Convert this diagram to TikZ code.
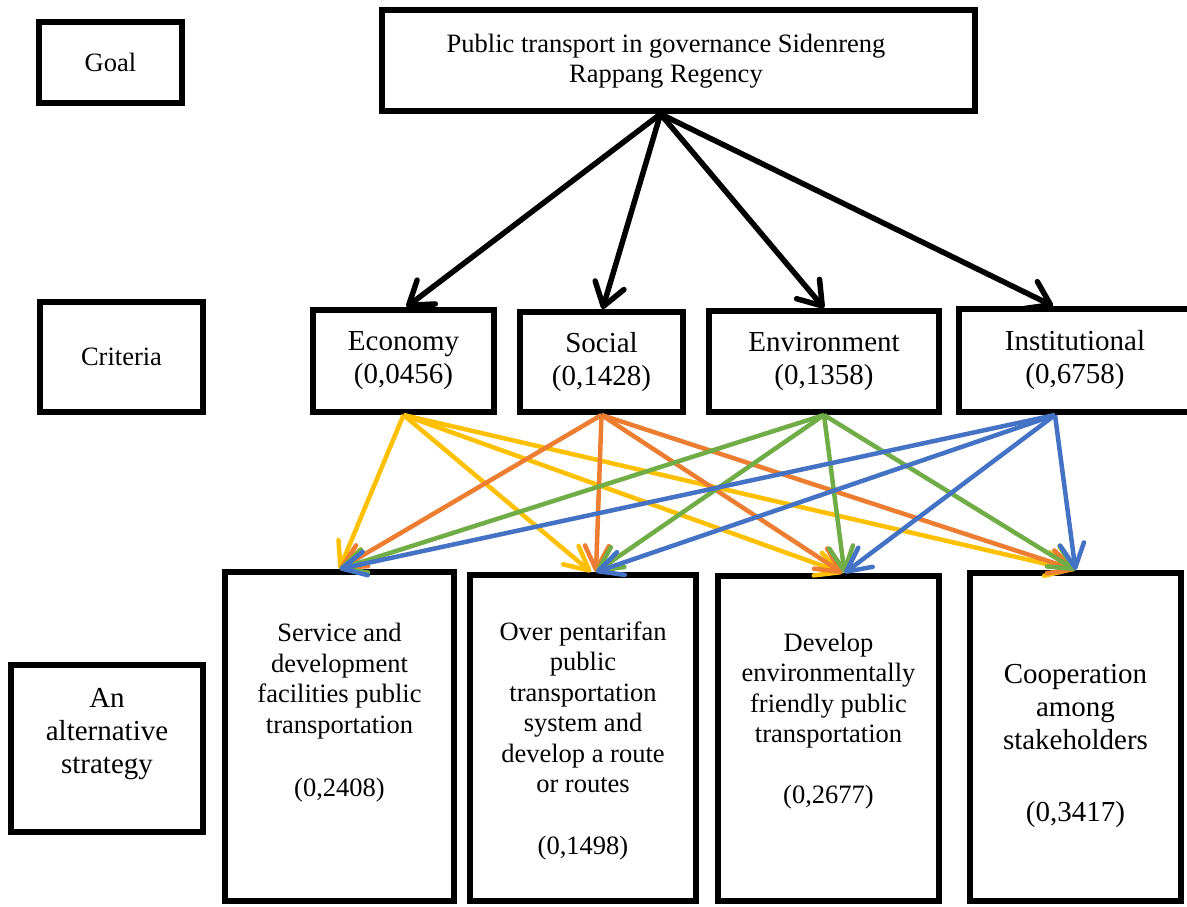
\documentclass[tikz,border=0pt]{standalone}
\usepackage{fontspec}
\setmainfont{Liberation Serif}
\usetikzlibrary{arrows.meta}
\definecolor{ecoline}{HTML}{FFC000}
\definecolor{socline}{HTML}{ED7D31}
\definecolor{envline}{HTML}{70AD47}
\definecolor{insline}{HTML}{4472C4}
\tikzset{
  framebox/.style={draw, line width=6pt, inner sep=0pt, align=center},
  smalltxt/.style={font=\fontsize{26.5}{30.5}\selectfont},
  bigtxt/.style={font=\fontsize{29}{33}\selectfont},
  goalarr/.style={-{Straight Barb[length=22pt,width=30pt,round]}, line width=5.5pt},
  critarr/.style={-{Straight Barb[length=24pt,width=24pt,round]}, line width=4.5pt}
}
\begin{document}
\begin{tikzpicture}[x=1pt,y=-1pt]
  \path[use as bounding box, fill=white] (0,0) rectangle (1187,907);

  % levels on the left
  \node[framebox, smalltxt, minimum width=143pt, minimum height=81pt] (lgoal) at (110.5,62.5) {Goal};
  \node[framebox, smalltxt, minimum width=163pt, minimum height=110pt] (lcrit) at (121.5,357) {Criteria};
  \node[framebox, minimum width=192pt, minimum height=167pt] (lalt) at (107,748.5) {};
  \node[bigtxt, align=center, inner sep=0pt] (lalttxt) at (107,734) {An\\alternative\\strategy};

  % goal
  \node[framebox, minimum width=593pt, minimum height=101pt] (goal) at (678.5,60.5) {};
  \node[smalltxt, align=center, inner sep=0pt] (goaltxt) at (666,61)
    {Public transport in governance Sidenreng\\Rappang Regency};

  % criteria
  \node[framebox, bigtxt, minimum width=181pt, minimum height=102pt] (econ) at (403.5,361) {Economy\\(0,0456)};
  \node[framebox, bigtxt, minimum width=163pt, minimum height=100pt] (soc) at (601.5,362) {Social\\(0,1428)};
  \node[framebox, bigtxt, minimum width=230pt, minimum height=101pt] (env) at (824,361.5) {Environment\\(0,1358)};
  \node[framebox, bigtxt, minimum width=232pt, minimum height=103pt] (inst) at (1075,360.5) {Institutional\\(0,6758)};

  % alternatives
  \node[framebox, minimum width=229pt, minimum height=329pt] (alt1) at (339.5,736.5) {};
  \node[framebox, minimum width=226pt, minimum height=326pt] (alt2) at (583,738) {};
  \node[framebox, minimum width=221pt, minimum height=325pt] (alt3) at (828.5,738.5) {};
  \node[framebox, minimum width=211pt, minimum height=328pt] (alt4) at (1075.5,737) {};
  \node[smalltxt, align=center, inner sep=0pt] (alt1txt) at (339.5,713)
    {Service and\\development\\facilities public\\transportation\\[33pt](0,2408)};
  \node[smalltxt, align=center, inner sep=0pt] (alt2txt) at (583,741)
    {Over pentarifan\\public\\transportation\\system and\\develop a route\\or routes\\[31.5pt](0,1498)};
  \node[smalltxt, align=center, inner sep=0pt] (alt3txt) at (828.5,721)
    {Develop\\environmentally\\friendly public\\transportation\\[30.5pt](0,2677)};
  \node[bigtxt, align=center, inner sep=0pt] (alt4txt) at (1075.5,746)
    {Cooperation\\among\\stakeholders\\[39pt](0,3417)};

  % goal -> criteria
  \draw[goalarr] ([xshift=-18pt]goal.south) -- ([xshift=3pt]econ.north);
  \draw[goalarr] ([xshift=-18pt]goal.south) -- ([xshift=1pt]soc.north);
  \draw[goalarr] ([xshift=-18pt]goal.south) -- (env.north);
  \draw[goalarr] ([xshift=-18pt]goal.south) -- ([xshift=-22pt]inst.north);

  % criteria -> alternatives
  \draw[critarr, ecoline] (econ.south) -- (alt1.north);
  \draw[critarr, ecoline] (econ.south) -- ([xshift=8pt]alt2.north);
  \draw[critarr, ecoline] (econ.south) -- ([xshift=14pt]alt3.north);
  \draw[critarr, ecoline] (econ.south) -- ([xshift=-3pt]alt4.north);
  \draw[critarr, socline] (soc.south) -- (alt1.north);
  \draw[critarr, socline] (soc.south) -- ([xshift=13pt]alt2.north);
  \draw[critarr, socline] (soc.south) -- ([xshift=14pt]alt3.north);
  \draw[critarr, socline] (soc.south) -- (alt4.north);
  \draw[critarr, envline] (env.south) -- (alt1.north);
  \draw[critarr, envline] (env.south) -- ([xshift=13pt]alt2.north);
  \draw[critarr, envline] (env.south) -- ([xshift=16pt]alt3.north);
  \draw[critarr, envline] (env.south) -- (alt4.north);
  \draw[critarr, insline] ([xshift=-20pt]inst.south) -- (alt1.north);
  \draw[critarr, insline] ([xshift=-20pt]inst.south) -- ([xshift=13pt]alt2.north);
  \draw[critarr, insline] ([xshift=-20pt]inst.south) -- ([xshift=16pt]alt3.north);
  \draw[critarr, insline] ([xshift=-20pt]inst.south) -- (alt4.north);
\end{tikzpicture}
\end{document}
